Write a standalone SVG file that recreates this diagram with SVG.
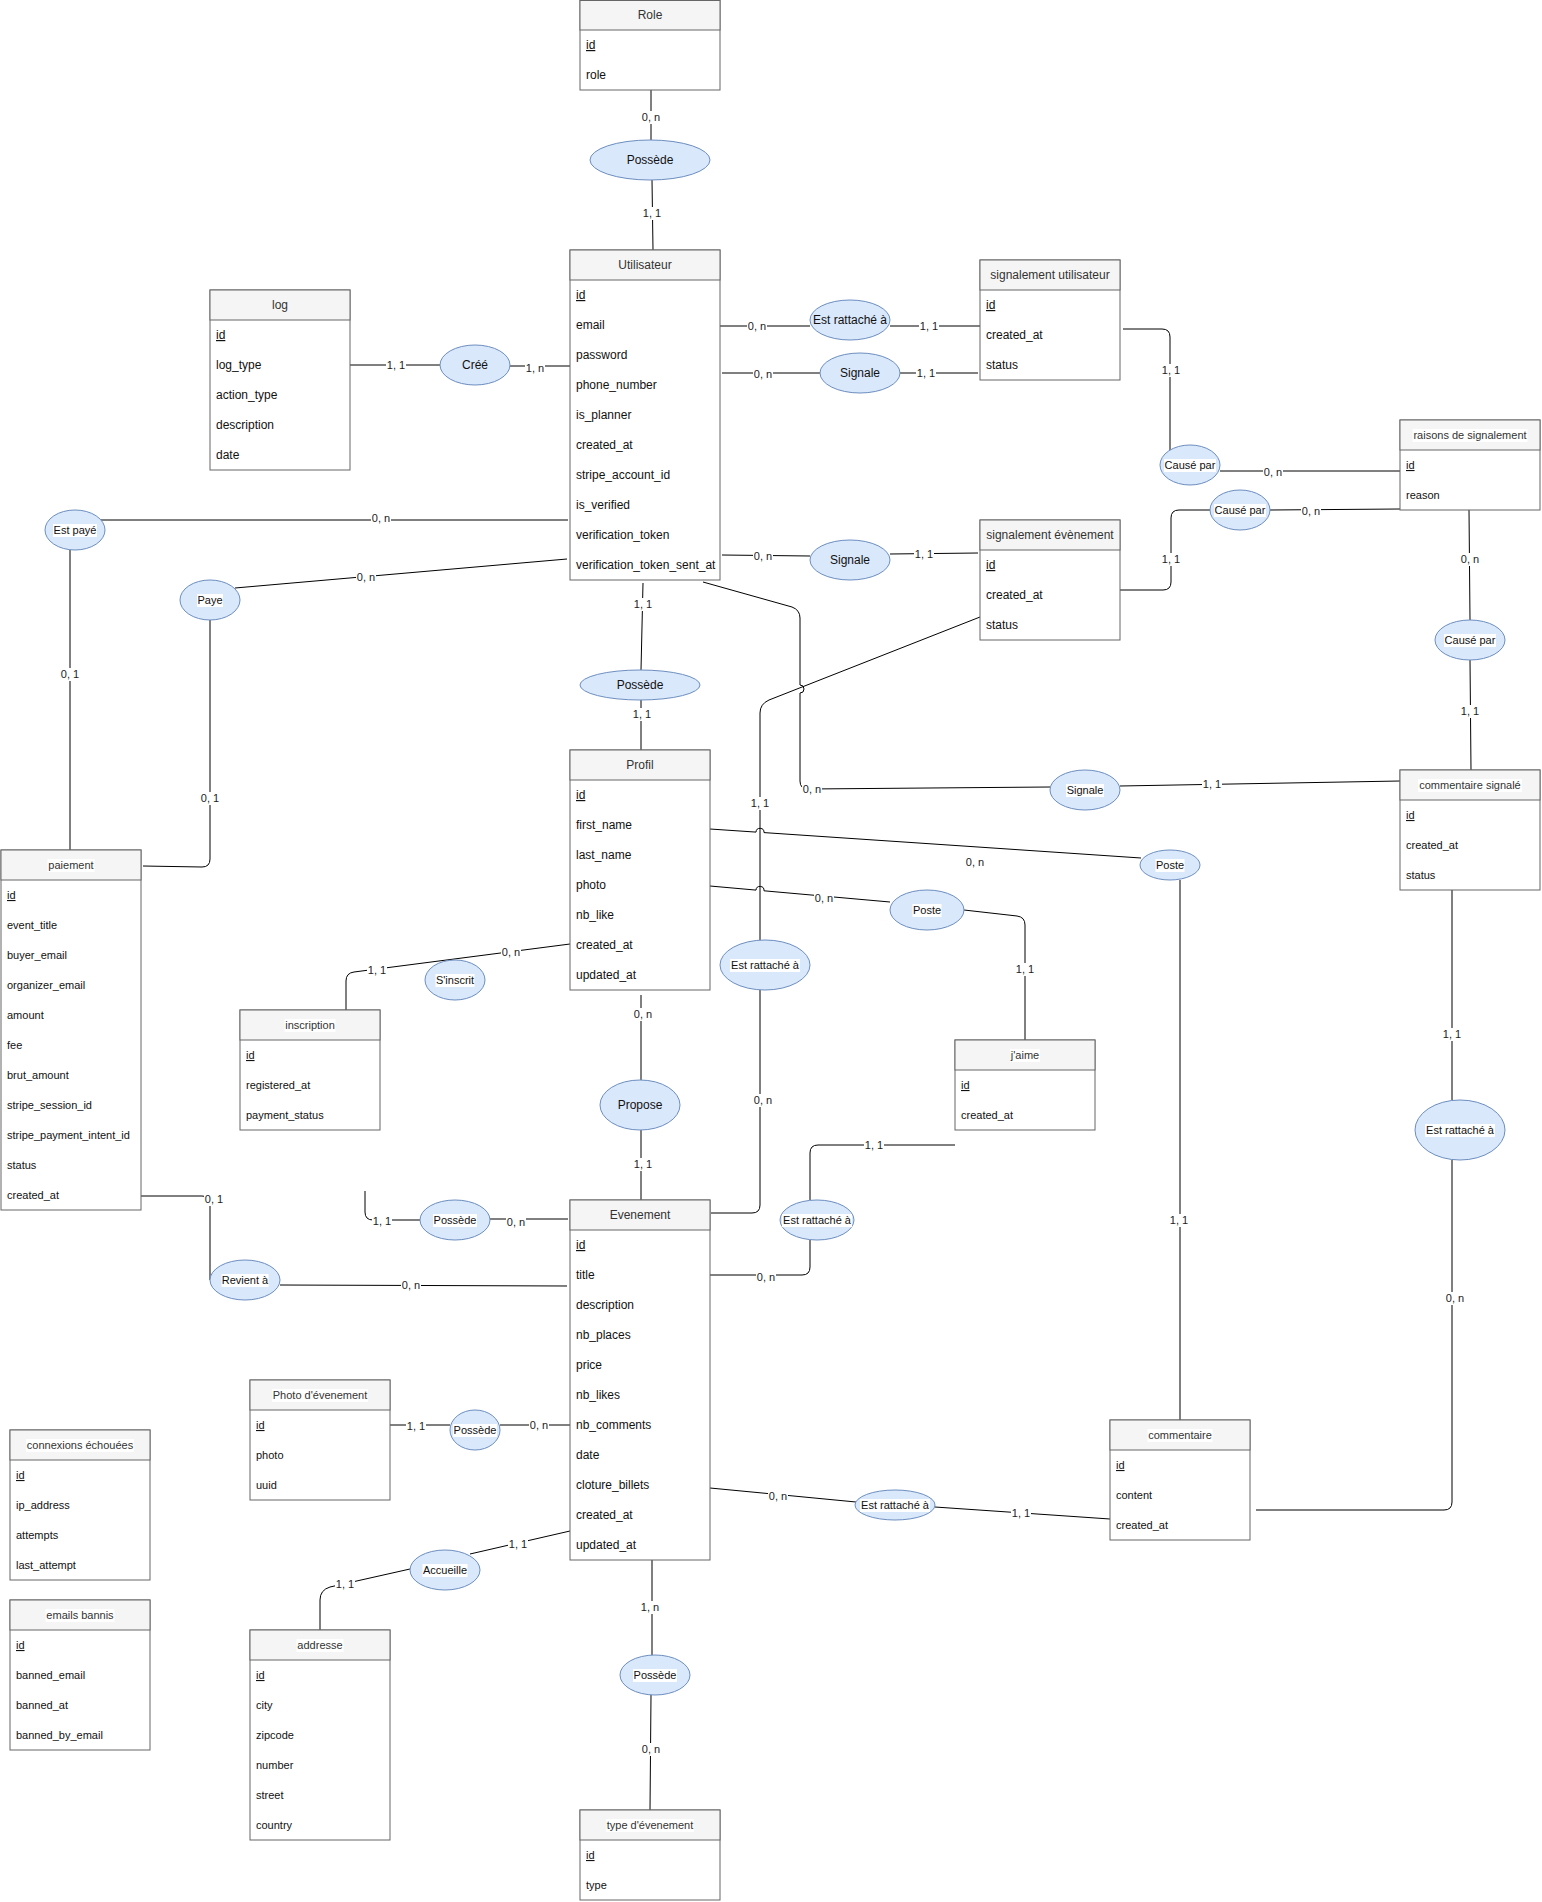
<svg xmlns="http://www.w3.org/2000/svg" width="1542" height="1902" viewBox="0 0 1542 1902">
<defs>
<style>
text{font-family:"Liberation Sans",Arial,Helvetica,sans-serif;}
.body{fill:#ffffff;stroke:#666666;stroke-width:1;}
.head{fill:#f5f5f5;stroke:#666666;stroke-width:1;}
.lb{fill:#ffffff;stroke:none;}
.ht{font-size:12px;fill:#333333;text-anchor:middle;}
.hts{font-size:11px;fill:#333333;text-anchor:middle;}
.r{font-size:12px;fill:#111111;}
.rs{font-size:11px;fill:#111111;}
.u{text-decoration:underline;}
.rel{fill:#dae8fc;stroke:#6c8ebf;stroke-width:1;}
.et{font-size:12px;fill:#111111;text-anchor:middle;}
.ets{font-size:11px;fill:#111111;text-anchor:middle;}
.c{fill:none;stroke:#000000;stroke-width:1;}
.el{font-size:11px;fill:#222222;text-anchor:middle;}
</style>
</defs>
<rect x="0" y="0" width="1542" height="1902" fill="#ffffff"/>

<g id="connectors">
<path class="c" d="M651,90 L651,140"/>
<path class="c" d="M652,180 L653,250"/>
<path class="c" d="M350,365 L440,365"/>
<path class="c" d="M510,366 L570,366"/>
<path class="c" d="M720,326 L810,326"/>
<path class="c" d="M890,326 L980,326"/>
<path class="c" d="M722,373 L820,373"/>
<path class="c" d="M900,373 L978,373"/>
<path class="c" d="M722,555 L810,556"/>
<path class="c" d="M890,554 L978,553"/>
<path class="c" d="M1123,329 L1162,329 Q1170,329 1170,337 L1170,450"/>
<path class="c" d="M1220,471 L1400,471"/>
<path class="c" d="M1120,590 L1163,590 Q1171,590 1171,582 L1171,518 Q1171,510 1179,510 L1210,510"/>
<path class="c" d="M1270,510 L1400,509"/>
<path class="c" d="M1469,510 L1470,620"/>
<path class="c" d="M1470,660 L1471,770"/>
<path class="c" d="M703,582 L792,607 Q800,610 800,618 L800,685 A4,4 0 0,1 800,693 L800,781 Q800,789 808,789 L1050,787"/>
<path class="c" d="M1120,786 L1400,781"/>
<path class="c" d="M980,617 L769,700 Q760,704 760,713 L760,940"/>
<path class="c" d="M760,990 L760,1205 Q760,1213 752,1213 L711,1213"/>
<path class="c" d="M643,583 L641,670"/>
<path class="c" d="M641,700 L641,750"/>
<path class="c" d="M710,829 L756,832.1 A4,4 0 0,1 764,832.6 L1141,858"/>
<path class="c" d="M1180,880 L1180,1420"/>
<path class="c" d="M710,886 L756,890.1 A4,4 0 0,1 764,890.8 L890,902"/>
<path class="c" d="M964,910 L1017,916 Q1025,917 1025,925 L1025,1040"/>
<path class="c" d="M570,944 L354,972 Q346,973 346,981 L346,1010"/>
<path class="c" d="M568,520 L101,520"/>
<path class="c" d="M70,550 L70,850"/>
<path class="c" d="M567,559 L235,588"/>
<path class="c" d="M210,620 L210,859 Q210,867 202,867 L143,866"/>
<path class="c" d="M141,1196 L202,1196 Q210,1196 210,1204 L210,1280"/>
<path class="c" d="M280,1285 L567,1286"/>
<path class="c" d="M641,995 L641,1080"/>
<path class="c" d="M641,1130 L641,1200"/>
<path class="c" d="M365,1191 L365,1212 Q365,1220 373,1220 L420,1220"/>
<path class="c" d="M490,1219 L568,1219"/>
<path class="c" d="M710,1275 L802,1275 Q810,1275 810,1267 L810,1240"/>
<path class="c" d="M810,1200 L810,1153 Q810,1145 818,1145 L955,1145"/>
<path class="c" d="M710,1488 L856,1502"/>
<path class="c" d="M935,1507 L1110,1519"/>
<path class="c" d="M1256,1510 L1444,1510 Q1452,1510 1452,1502 L1452,1160"/>
<path class="c" d="M1452,1100 L1452,890"/>
<path class="c" d="M652,1560 L652,1655"/>
<path class="c" d="M651,1695 L650,1810"/>
<path class="c" d="M570,1531 L470,1554"/>
<path class="c" d="M410,1569 L330,1587 Q320,1590 320,1600 L320,1630"/>
<path class="c" d="M390,1425 L450,1425"/>
<path class="c" d="M500,1425 L570,1425"/>
<g id="edge-labels">
<rect class="lb" x="641" y="111" width="20" height="13"/><text class="el" x="651" y="121">0, n</text>
<rect class="lb" x="642" y="207" width="20" height="13"/><text class="el" x="652" y="217">1, 1</text>
<rect class="lb" x="386" y="359" width="20" height="13"/><text class="el" x="396" y="369">1, 1</text>
<rect class="lb" x="525" y="362" width="20" height="13"/><text class="el" x="535" y="372">1, n</text>
<rect class="lb" x="747" y="320" width="20" height="13"/><text class="el" x="757" y="330">0, n</text>
<rect class="lb" x="919" y="320" width="20" height="13"/><text class="el" x="929" y="330">1, 1</text>
<rect class="lb" x="753" y="368" width="20" height="13"/><text class="el" x="763" y="378">0, n</text>
<rect class="lb" x="916" y="367" width="20" height="13"/><text class="el" x="926" y="377">1, 1</text>
<rect class="lb" x="753" y="550" width="20" height="13"/><text class="el" x="763" y="560">0, n</text>
<rect class="lb" x="914" y="548" width="20" height="13"/><text class="el" x="924" y="558">1, 1</text>
<rect class="lb" x="1161" y="364" width="20" height="13"/><text class="el" x="1171" y="374">1, 1</text>
<rect class="lb" x="1263" y="466" width="20" height="13"/><text class="el" x="1273" y="476">0, n</text>
<rect class="lb" x="1161" y="553" width="20" height="13"/><text class="el" x="1171" y="563">1, 1</text>
<rect class="lb" x="1301" y="505" width="20" height="13"/><text class="el" x="1311" y="515">0, n</text>
<rect class="lb" x="1460" y="553" width="20" height="13"/><text class="el" x="1470" y="563">0, n</text>
<rect class="lb" x="1460" y="705" width="20" height="13"/><text class="el" x="1470" y="715">1, 1</text>
<rect class="lb" x="802" y="783" width="20" height="13"/><text class="el" x="812" y="793">0, n</text>
<rect class="lb" x="1202" y="778" width="20" height="13"/><text class="el" x="1212" y="788">1, 1</text>
<rect class="lb" x="750" y="797" width="20" height="13"/><text class="el" x="760" y="807">1, 1</text>
<rect class="lb" x="753" y="1094" width="20" height="13"/><text class="el" x="763" y="1104">0, n</text>
<rect class="lb" x="633" y="598" width="20" height="13"/><text class="el" x="643" y="608">1, 1</text>
<rect class="lb" x="632" y="708" width="20" height="13"/><text class="el" x="642" y="718">1, 1</text>
<rect class="lb" x="965" y="856" width="20" height="13"/><text class="el" x="975" y="866">0, n</text>
<rect class="lb" x="1169" y="1214" width="20" height="13"/><text class="el" x="1179" y="1224">1, 1</text>
<rect class="lb" x="814" y="892" width="20" height="13"/><text class="el" x="824" y="902">0, n</text>
<rect class="lb" x="1015" y="963" width="20" height="13"/><text class="el" x="1025" y="973">1, 1</text>
<rect class="lb" x="501" y="946" width="20" height="13"/><text class="el" x="511" y="956">0, n</text>
<rect class="lb" x="367" y="964" width="20" height="13"/><text class="el" x="377" y="974">1, 1</text>
<rect class="lb" x="371" y="512" width="20" height="13"/><text class="el" x="381" y="522">0, n</text>
<rect class="lb" x="60" y="668" width="20" height="13"/><text class="el" x="70" y="678">0, 1</text>
<rect class="lb" x="356" y="571" width="20" height="13"/><text class="el" x="366" y="581">0, n</text>
<rect class="lb" x="200" y="792" width="20" height="13"/><text class="el" x="210" y="802">0, 1</text>
<rect class="lb" x="204" y="1193" width="20" height="13"/><text class="el" x="214" y="1203">0, 1</text>
<rect class="lb" x="401" y="1279" width="20" height="13"/><text class="el" x="411" y="1289">0, n</text>
<rect class="lb" x="633" y="1008" width="20" height="13"/><text class="el" x="643" y="1018">0, n</text>
<rect class="lb" x="633" y="1158" width="20" height="13"/><text class="el" x="643" y="1168">1, 1</text>
<rect class="lb" x="372" y="1215" width="20" height="13"/><text class="el" x="382" y="1225">1, 1</text>
<rect class="lb" x="506" y="1216" width="20" height="13"/><text class="el" x="516" y="1226">0, n</text>
<rect class="lb" x="756" y="1271" width="20" height="13"/><text class="el" x="766" y="1281">0, n</text>
<rect class="lb" x="864" y="1139" width="20" height="13"/><text class="el" x="874" y="1149">1, 1</text>
<rect class="lb" x="768" y="1490" width="20" height="13"/><text class="el" x="778" y="1500">0, n</text>
<rect class="lb" x="1011" y="1507" width="20" height="13"/><text class="el" x="1021" y="1517">1, 1</text>
<rect class="lb" x="1445" y="1292" width="20" height="13"/><text class="el" x="1455" y="1302">0, n</text>
<rect class="lb" x="1442" y="1028" width="20" height="13"/><text class="el" x="1452" y="1038">1, 1</text>
<rect class="lb" x="640" y="1601" width="20" height="13"/><text class="el" x="650" y="1611">1, n</text>
<rect class="lb" x="641" y="1743" width="20" height="13"/><text class="el" x="651" y="1753">0, n</text>
<rect class="lb" x="508" y="1538" width="20" height="13"/><text class="el" x="518" y="1548">1, 1</text>
<rect class="lb" x="335" y="1578" width="20" height="13"/><text class="el" x="345" y="1588">1, 1</text>
<rect class="lb" x="406" y="1420" width="20" height="13"/><text class="el" x="416" y="1430">1, 1</text>
<rect class="lb" x="529" y="1419" width="20" height="13"/><text class="el" x="539" y="1429">0, n</text>
</g>
</g>

<g id="role">
<rect class="body" x="580" y="0.5" width="140" height="89.5"/>
<rect class="head" x="580" y="0.5" width="140" height="29.5"/>
<text class="ht" x="650" y="19">Role</text>
<text class="r u" x="586" y="49">id</text>
<text class="r" x="586" y="79">role</text>
</g>

<g id="utilisateur">
<rect class="body" x="570" y="250" width="150" height="330"/>
<rect class="head" x="570" y="250" width="150" height="30"/>
<text class="ht" x="645" y="269">Utilisateur</text>
<text class="r u" x="576" y="299">id</text>
<text class="r" x="576" y="329">email</text>
<text class="r" x="576" y="359">password</text>
<text class="r" x="576" y="389">phone_number</text>
<text class="r" x="576" y="419">is_planner</text>
<text class="r" x="576" y="449">created_at</text>
<text class="r" x="576" y="479">stripe_account_id</text>
<text class="r" x="576" y="509">is_verified</text>
<text class="r" x="576" y="539">verification_token</text>
<text class="r" x="576" y="569">verification_token_sent_at</text>
</g>

<g id="log">
<rect class="body" x="210" y="290" width="140" height="180"/>
<rect class="head" x="210" y="290" width="140" height="30"/>
<text class="ht" x="280" y="309">log</text>
<text class="r u" x="216" y="339">id</text>
<text class="r" x="216" y="369">log_type</text>
<text class="r" x="216" y="399">action_type</text>
<text class="r" x="216" y="429">description</text>
<text class="r" x="216" y="459">date</text>
</g>

<g id="signalement-utilisateur">
<rect class="body" x="980" y="260" width="140" height="120"/>
<rect class="head" x="980" y="260" width="140" height="30"/>
<text class="ht" x="1050" y="279">signalement utilisateur</text>
<text class="r u" x="986" y="309">id</text>
<text class="r" x="986" y="339">created_at</text>
<text class="r" x="986" y="369">status</text>
</g>

<g id="raisons-de-signalement">
<rect class="body" x="1400" y="420" width="140" height="90"/>
<rect class="head" x="1400" y="420" width="140" height="30"/>
<rect class="lb" x="1412.5" y="429" width="115" height="13"/>
<text class="hts" x="1470" y="439">raisons de signalement</text>
<text class="rs u" x="1406" y="469">id</text>
<text class="rs" x="1406" y="499">reason</text>
</g>

<g id="signalement-evenement">
<rect class="body" x="980" y="520" width="140" height="120"/>
<rect class="head" x="980" y="520" width="140" height="30"/>
<text class="ht" x="1050" y="539">signalement évènement</text>
<text class="r u" x="986" y="569">id</text>
<text class="r" x="986" y="599">created_at</text>
<text class="r" x="986" y="629">status</text>
</g>

<g id="commentaire-signale">
<rect class="body" x="1400" y="770" width="140" height="120"/>
<rect class="head" x="1400" y="770" width="140" height="30"/>
<rect class="lb" x="1418" y="779" width="104" height="13"/>
<text class="hts" x="1470" y="789">commentaire signalé</text>
<text class="rs u" x="1406" y="819">id</text>
<text class="rs" x="1406" y="849">created_at</text>
<text class="rs" x="1406" y="879">status</text>
</g>

<g id="profil">
<rect class="body" x="570" y="750" width="140" height="240"/>
<rect class="head" x="570" y="750" width="140" height="30"/>
<text class="ht" x="640" y="769">Profil</text>
<text class="r u" x="576" y="799">id</text>
<text class="r" x="576" y="829">first_name</text>
<text class="r" x="576" y="859">last_name</text>
<text class="r" x="576" y="889">photo</text>
<text class="r" x="576" y="919">nb_like</text>
<text class="r" x="576" y="949">created_at</text>
<text class="r" x="576" y="979">updated_at</text>
</g>

<g id="paiement">
<rect class="body" x="1" y="850" width="140" height="360"/>
<rect class="head" x="1" y="850" width="140" height="30"/>
<rect class="lb" x="47.5" y="859" width="47" height="13"/>
<text class="hts" x="71" y="869">paiement</text>
<text class="rs u" x="7" y="899">id</text>
<text class="rs" x="7" y="929">event_title</text>
<text class="rs" x="7" y="959">buyer_email</text>
<text class="rs" x="7" y="989">organizer_email</text>
<text class="rs" x="7" y="1019">amount</text>
<text class="rs" x="7" y="1049">fee</text>
<text class="rs" x="7" y="1079">brut_amount</text>
<text class="rs" x="7" y="1109">stripe_session_id</text>
<text class="rs" x="7" y="1139">stripe_payment_intent_id</text>
<text class="rs" x="7" y="1169">status</text>
<text class="rs" x="7" y="1199">created_at</text>
</g>

<g id="inscription">
<rect class="body" x="240" y="1010" width="140" height="120"/>
<rect class="head" x="240" y="1010" width="140" height="30"/>
<rect class="lb" x="284.5" y="1019" width="51" height="13"/>
<text class="hts" x="310" y="1029">inscription</text>
<text class="rs u" x="246" y="1059">id</text>
<text class="rs" x="246" y="1089">registered_at</text>
<text class="rs" x="246" y="1119">payment_status</text>
</g>

<g id="jaime">
<rect class="body" x="955" y="1040" width="140" height="90"/>
<rect class="head" x="955" y="1040" width="140" height="30"/>
<rect class="lb" x="1010" y="1049" width="30" height="13"/>
<text class="hts" x="1025" y="1059">j'aime</text>
<text class="rs u" x="961" y="1089">id</text>
<text class="rs" x="961" y="1119">created_at</text>
</g>

<g id="evenement">
<rect class="body" x="570" y="1200" width="140" height="360"/>
<rect class="head" x="570" y="1200" width="140" height="30"/>
<text class="ht" x="640" y="1219">Evenement</text>
<text class="r u" x="576" y="1249">id</text>
<text class="r" x="576" y="1279">title</text>
<text class="r" x="576" y="1309">description</text>
<text class="r" x="576" y="1339">nb_places</text>
<text class="r" x="576" y="1369">price</text>
<text class="r" x="576" y="1399">nb_likes</text>
<text class="r" x="576" y="1429">nb_comments</text>
<text class="r" x="576" y="1459">date</text>
<text class="r" x="576" y="1489">cloture_billets</text>
<text class="r" x="576" y="1519">created_at</text>
<text class="r" x="576" y="1549">updated_at</text>
</g>

<g id="photo-evenement">
<rect class="body" x="250" y="1380" width="140" height="120"/>
<rect class="head" x="250" y="1380" width="140" height="30"/>
<rect class="lb" x="272" y="1389" width="96" height="13"/>
<text class="hts" x="320" y="1399">Photo d'évenement</text>
<text class="rs u" x="256" y="1429">id</text>
<text class="rs" x="256" y="1459">photo</text>
<text class="rs" x="256" y="1489">uuid</text>
</g>

<g id="connexions-echouees">
<rect class="body" x="10" y="1430" width="140" height="150"/>
<rect class="head" x="10" y="1430" width="140" height="30"/>
<rect class="lb" x="26" y="1439" width="108" height="13"/>
<text class="hts" x="80" y="1449">connexions échouées</text>
<text class="rs u" x="16" y="1479">id</text>
<text class="rs" x="16" y="1509">ip_address</text>
<text class="rs" x="16" y="1539">attempts</text>
<text class="rs" x="16" y="1569">last_attempt</text>
</g>

<g id="emails-bannis">
<rect class="body" x="10" y="1600" width="140" height="150"/>
<rect class="head" x="10" y="1600" width="140" height="30"/>
<rect class="lb" x="45.5" y="1609" width="69" height="13"/>
<text class="hts" x="80" y="1619">emails bannis</text>
<text class="rs u" x="16" y="1649">id</text>
<text class="rs" x="16" y="1679">banned_email</text>
<text class="rs" x="16" y="1709">banned_at</text>
<text class="rs" x="16" y="1739">banned_by_email</text>
</g>

<g id="addresse">
<rect class="body" x="250" y="1630" width="140" height="210"/>
<rect class="head" x="250" y="1630" width="140" height="30"/>
<rect class="lb" x="296.5" y="1639" width="47" height="13"/>
<text class="hts" x="320" y="1649">addresse</text>
<text class="rs u" x="256" y="1679">id</text>
<text class="rs" x="256" y="1709">city</text>
<text class="rs" x="256" y="1739">zipcode</text>
<text class="rs" x="256" y="1769">number</text>
<text class="rs" x="256" y="1799">street</text>
<text class="rs" x="256" y="1829">country</text>
</g>

<g id="type-evenement">
<rect class="body" x="580" y="1810" width="140" height="90"/>
<rect class="head" x="580" y="1810" width="140" height="30"/>
<rect class="lb" x="606" y="1819" width="88" height="13"/>
<text class="hts" x="650" y="1829">type d'évenement</text>
<text class="rs u" x="586" y="1859">id</text>
<text class="rs" x="586" y="1889">type</text>
</g>

<g id="commentaire">
<rect class="body" x="1110" y="1420" width="140" height="120"/>
<rect class="head" x="1110" y="1420" width="140" height="30"/>
<rect class="lb" x="1147.5" y="1429" width="65" height="13"/>
<text class="hts" x="1180" y="1439">commentaire</text>
<text class="rs u" x="1116" y="1469">id</text>
<text class="rs" x="1116" y="1499">content</text>
<text class="rs" x="1116" y="1529">created_at</text>
</g>

<g id="rel-possede-role"><ellipse class="rel" cx="650" cy="160" rx="60" ry="20"/><text class="et" x="650" y="164">Possède</text></g>
<g id="rel-cree"><ellipse class="rel" cx="475" cy="365" rx="35" ry="20"/><text class="et" x="475" y="369">Créé</text></g>
<g id="rel-rattache-signalement-utilisateur"><ellipse class="rel" cx="850" cy="320" rx="40" ry="20"/><text class="et" x="850" y="324">Est rattaché à</text></g>
<g id="rel-signale-utilisateur"><ellipse class="rel" cx="860" cy="373" rx="40" ry="20"/><text class="et" x="860" y="377">Signale</text></g>
<g id="rel-signale-evenement"><ellipse class="rel" cx="850" cy="560" rx="40" ry="20"/><text class="et" x="850" y="564">Signale</text></g>
<g id="rel-cause-par-utilisateur"><ellipse class="rel" cx="1190" cy="465" rx="30" ry="20"/><rect class="lb" x="1164" y="459" width="52" height="13"/><text class="ets" x="1190" y="469">Causé par</text></g>
<g id="rel-cause-par-evenement"><ellipse class="rel" cx="1240" cy="510" rx="30" ry="20"/><rect class="lb" x="1214" y="504" width="52" height="13"/><text class="ets" x="1240" y="514">Causé par</text></g>
<g id="rel-cause-par-commentaire"><ellipse class="rel" cx="1470" cy="640" rx="35" ry="20"/><rect class="lb" x="1444" y="634" width="52" height="13"/><text class="ets" x="1470" y="644">Causé par</text></g>
<g id="rel-est-paye"><ellipse class="rel" cx="75" cy="530" rx="30" ry="20"/><rect class="lb" x="53" y="524" width="44" height="13"/><text class="ets" x="75" y="534">Est payé</text></g>
<g id="rel-paye"><ellipse class="rel" cx="210" cy="600" rx="30" ry="20"/><rect class="lb" x="197" y="594" width="26" height="13"/><text class="ets" x="210" y="604">Paye</text></g>
<g id="rel-possede-profil"><ellipse class="rel" cx="640" cy="685" rx="60" ry="15"/><text class="et" x="640" y="689">Possède</text></g>
<g id="rel-signale-commentaire"><ellipse class="rel" cx="1085" cy="790" rx="35" ry="20"/><rect class="lb" x="1066" y="784" width="38" height="13"/><text class="ets" x="1085" y="794">Signale</text></g>
<g id="rel-poste-commentaire"><ellipse class="rel" cx="1170" cy="865" rx="30" ry="15"/><rect class="lb" x="1155.5" y="859" width="29" height="13"/><text class="ets" x="1170" y="869">Poste</text></g>
<g id="rel-poste-jaime"><ellipse class="rel" cx="927" cy="910" rx="37" ry="20"/><rect class="lb" x="912.5" y="904" width="29" height="13"/><text class="ets" x="927" y="914">Poste</text></g>
<g id="rel-sinscrit"><ellipse class="rel" cx="455" cy="980" rx="30" ry="20"/><rect class="lb" x="435.5" y="974" width="39" height="13"/><text class="ets" x="455" y="984">S'inscrit</text></g>
<g id="rel-rattache-signalement-evenement"><ellipse class="rel" cx="765" cy="965" rx="45" ry="25"/><rect class="lb" x="730" y="959" width="70" height="13"/><text class="ets" x="765" y="969">Est rattaché à</text></g>
<g id="rel-propose"><ellipse class="rel" cx="640" cy="1105" rx="40" ry="25"/><text class="et" x="640" y="1109">Propose</text></g>
<g id="rel-rattache-jaime"><ellipse class="rel" cx="817" cy="1220" rx="37" ry="20"/><rect class="lb" x="782" y="1214" width="70" height="13"/><text class="ets" x="817" y="1224">Est rattaché à</text></g>
<g id="rel-possede-inscription"><ellipse class="rel" cx="455" cy="1220" rx="35" ry="20"/><rect class="lb" x="433" y="1214" width="44" height="13"/><text class="ets" x="455" y="1224">Possède</text></g>
<g id="rel-revient"><ellipse class="rel" cx="245" cy="1280" rx="35" ry="20"/><rect class="lb" x="221.5" y="1274" width="47" height="13"/><text class="ets" x="245" y="1284">Revient à</text></g>
<g id="rel-rattache-commentaire"><ellipse class="rel" cx="895" cy="1505" rx="40" ry="15"/><rect class="lb" x="860" y="1499" width="70" height="13"/><text class="ets" x="895" y="1509">Est rattaché à</text></g>
<g id="rel-rattache-commentaire-signale"><ellipse class="rel" cx="1460" cy="1130" rx="45" ry="30"/><rect class="lb" x="1425" y="1124" width="70" height="13"/><text class="ets" x="1460" y="1134">Est rattaché à</text></g>
<g id="rel-possede-photo"><ellipse class="rel" cx="475" cy="1430" rx="25" ry="20"/><rect class="lb" x="453" y="1424" width="44" height="13"/><text class="ets" x="475" y="1434">Possède</text></g>
<g id="rel-accueille"><ellipse class="rel" cx="445" cy="1570" rx="35" ry="20"/><rect class="lb" x="422.5" y="1564" width="45" height="13"/><text class="ets" x="445" y="1574">Accueille</text></g>
<g id="rel-possede-type"><ellipse class="rel" cx="655" cy="1675" rx="35" ry="20"/><rect class="lb" x="633" y="1669" width="44" height="13"/><text class="ets" x="655" y="1679">Possède</text></g>
</svg>
